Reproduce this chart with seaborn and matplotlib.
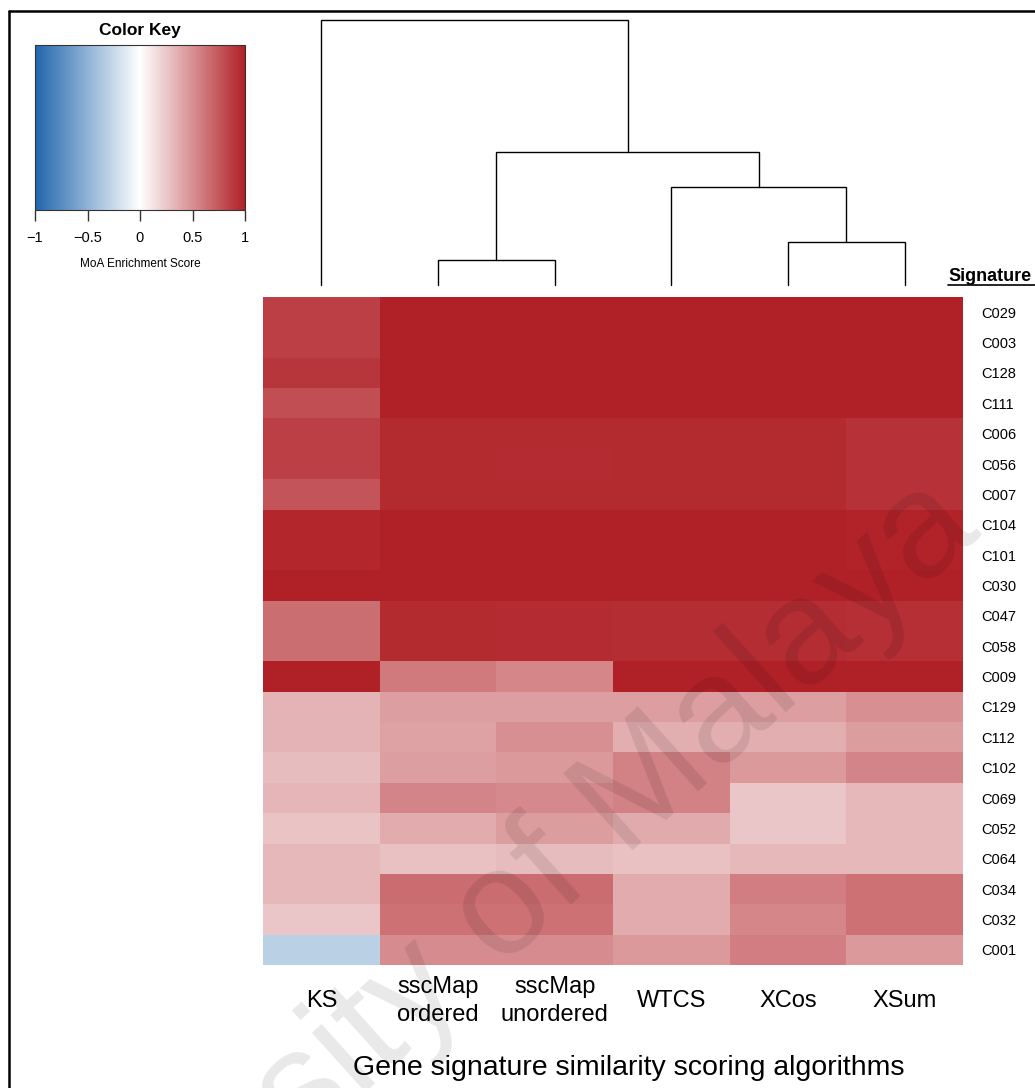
import numpy as np
import pandas as pd
import matplotlib
matplotlib.use("Agg")
import matplotlib.pyplot as plt
import seaborn as sns
from matplotlib.colors import LinearSegmentedColormap
from matplotlib.lines import Line2D

# ---------------- data ----------------
signatures = ["C029", "C003", "C128", "C111", "C006", "C056", "C007", "C104",
              "C101", "C030", "C047", "C058", "C009", "C129", "C112", "C102",
              "C069", "C052", "C064", "C034", "C032", "C001"]
algorithms = ["KS", "sscMap\nordered", "sscMap\nunordered", "WTCS", "XCos", "XSum"]

ks          = [0.86, 0.86, 0.90, 0.79, 0.86, 0.86, 0.76, 0.97, 0.97, 1.00, 0.65,
               0.65, 1.00, 0.34, 0.34, 0.30, 0.33, 0.27, 0.32, 0.32, 0.25, -0.31]
ssc_ordered = [1.00, 1.00, 1.00, 1.00, 0.96, 0.96, 0.96, 1.00, 1.00, 1.00, 0.96,
               0.96, 0.60, 0.43, 0.42, 0.43, 0.55, 0.37, 0.28, 0.66, 0.64, 0.52]
ssc_unorder = [1.00, 1.00, 1.00, 1.00, 0.96, 0.95, 0.96, 1.00, 1.00, 1.00, 0.95,
               0.95, 0.54, 0.43, 0.50, 0.46, 0.53, 0.44, 0.30, 0.66, 0.64, 0.52]
wtcs        = [1.00, 1.00, 1.00, 1.00, 0.96, 0.96, 0.96, 1.00, 1.00, 1.00, 0.94,
               0.94, 1.00, 0.43, 0.36, 0.57, 0.57, 0.38, 0.28, 0.37, 0.37, 0.46]
xcos        = [1.00, 1.00, 1.00, 1.00, 0.96, 0.96, 0.96, 1.00, 1.00, 1.00, 0.94,
               0.94, 1.00, 0.43, 0.36, 0.46, 0.25, 0.25, 0.32, 0.58, 0.54, 0.58]
xsum        = [1.00, 1.00, 1.00, 1.00, 0.92, 0.92, 0.92, 0.99, 0.99, 1.00, 0.93,
               0.93, 1.00, 0.50, 0.44, 0.55, 0.32, 0.32, 0.32, 0.64, 0.64, 0.46]

# column dendrogram (scipy-like linkage: child a, child b, height); leaves 0..5
col_merges = [(1, 2, 0.094), (4, 5, 0.162), (3, 7, 0.370), (6, 8, 0.502), (0, 9, 1.000)]

key_ticks = [-1, -0.5, 0, 0.5, 1]

# ---------------- style ----------------
sns.set_style("white")
plt.rcParams["font.family"] = ["Liberation Sans", "DejaVu Sans"]
plt.rcParams["text.color"] = "black"
plt.rcParams["xtick.color"] = "black"
plt.rcParams["ytick.color"] = "black"
plt.rcParams["axes.labelcolor"] = "black"

W, H = 1035, 1088
fig = plt.figure(figsize=(W / 100, H / 100), dpi=100)


def fr(x0, y0, x1, y1):
    return [x0 / W, 1 - y1 / H, (x1 - x0) / W, (y1 - y0) / H]


cmap = LinearSegmentedColormap.from_list("moa", ["#2166AC", "#FFFFFF", "#B02127"])

df = pd.DataFrame({a: v for a, v in zip(algorithms,
                   [ks, ssc_ordered, ssc_unorder, wtcs, xcos, xsum])},
                  index=signatures)

# heatmap
ax = fig.add_axes(fr(263, 297, 963, 965))
sns.heatmap(df, ax=ax, cmap=cmap, vmin=-1, vmax=1, cbar=False,
            xticklabels=True, yticklabels=True)
ax.set_xlabel("")
ax.set_ylabel("")
ax.yaxis.tick_right()
ax.tick_params(axis="y", length=0, pad=13.5, labelsize=10.5, labelrotation=0,
               labelcolor="black")
ax.tick_params(axis="x", length=0, pad=26, labelsize=17, labelrotation=0,
               labelcolor="black")
for lab in ax.get_xticklabels():
    lab.set_va("center")
    lab.set_linespacing(1.35)

# dendrogram
axd = fig.add_axes(fr(263, 20, 963, 285))
pos = {i: (i + 0.5, 0.0) for i in range(len(algorithms))}
node = len(algorithms)
for a, b, h in col_merges:
    xa, ha = pos[a]
    xb, hb = pos[b]
    axd.plot([xa, xa, xb, xb], [ha, h, h, hb], color="black", lw=1.0,
             solid_joinstyle="miter", clip_on=False)
    pos[node] = ((xa + xb) / 2, h)
    node += 1
axd.set_xlim(0, len(algorithms))
axd.set_ylim(0, 1)
axd.axis("off")

# color key
axk = fig.add_axes(fr(35, 45, 245, 210))
cb = fig.colorbar(ax.collections[0], cax=axk, orientation="horizontal", ticks=key_ticks)
cb.ax.set_xticklabels(["\u22121", "\u22120.5", "0", "0.5", "1"])
cb.ax.tick_params(length=8, width=1, labelsize=10.5, pad=7, color="#333333",
                  labelcolor="black")
cb.outline.set_linewidth(0.8)
cb.outline.set_edgecolor("#333333")
fig.text(140 / W, 1 - 31 / H, "Color Key", ha="center", va="center",
         fontsize=12.5, fontweight="bold")
fig.text(140 / W, 1 - 264 / H, "MoA Enrichment Score", ha="center", va="center",
         fontsize=8.5)

# Signature header (underlined)
fig.text(948 / W, 1 - 281 / H, "Signature", ha="left", va="baseline",
         fontsize=13, fontweight="bold")
fig.add_artist(Line2D([948 / W, 1.0], [1 - 284.5 / H] * 2, color="black", lw=1.2))

# x title
fig.text(629 / W, 1 - 1068 / H, "Gene signature similarity scoring algorithms",
         ha="center", va="center", fontsize=20.5)

# frame lines (left & top)
fig.add_artist(Line2D([9 / W, 9 / W], [0, 1 - 11 / H], color="black", lw=1.8))
fig.add_artist(Line2D([9 / W, 1.0], [1 - 11 / H, 1 - 11 / H], color="black", lw=1.8))

# watermark
fig.text(984 / W, 1 - 535 / H, "University of Malaya", ha="right", va="baseline",
         rotation=42, rotation_mode="anchor", fontsize=108, color="black",
         alpha=0.09, zorder=10)

fig.savefig("out.png", dpi=100)
